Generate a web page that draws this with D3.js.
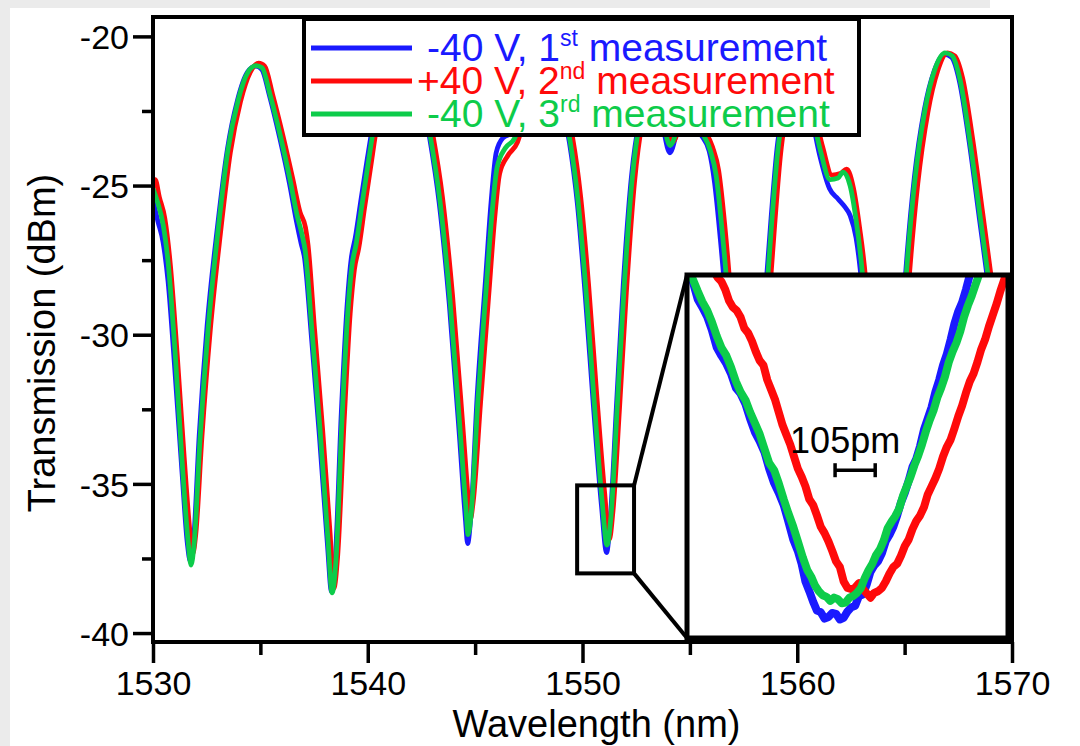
<!DOCTYPE html>
<html>
<head>
<meta charset="utf-8">
<script src="https://cdn.jsdelivr.net/npm/d3@7"></script>
<style>
  html, body { margin: 0; padding: 0; background: #ebebeb; }
  svg { display: block; font-family: "Liberation Sans", Arial, sans-serif; }
</style>
</head>
<body>
<svg id="chart" width="1080" height="746"></svg>
<script>
// Transmission spectra (wavelength in nm, transmission in dBm)
const traceBlue = [
  [1530.00,-25.50],[1530.23,-26.20],[1530.47,-26.90],[1530.70,-28.20],[1531.02,-31.20],[1531.35,-34.60],
  [1531.60,-37.00],[1531.74,-37.60],[1531.88,-37.00],[1532.15,-33.40],[1532.52,-29.70],[1533.00,-26.40],
  [1533.46,-23.80],[1533.93,-22.15],[1534.40,-21.20],[1534.78,-21.00],[1535.06,-21.10],[1535.43,-22.00],
  [1535.90,-23.40],[1536.36,-24.95],[1536.68,-26.20],[1536.90,-26.95],[1537.05,-27.40],[1537.37,-30.00],
  [1537.75,-33.40],[1538.12,-37.00],[1538.31,-38.60],[1538.49,-37.50],[1538.77,-32.60],[1539.05,-28.90],
  [1539.24,-27.40],[1539.42,-26.75],[1539.70,-25.40],[1539.98,-24.10],[1540.31,-22.70],[1540.63,-21.75],
  [1541.10,-20.85],[1541.57,-20.60],[1542.03,-20.85],[1542.50,-21.95],[1542.87,-23.35],[1543.33,-25.60],
  [1543.80,-29.00],[1544.27,-33.40],[1544.55,-36.20],[1544.65,-37.00],[1544.79,-36.20],[1545.10,-32.00],
  [1545.48,-28.20],[1545.75,-25.50],[1545.98,-23.90],[1546.30,-23.40],[1546.80,-23.20],[1547.27,-22.25],
  [1547.82,-21.30],[1548.37,-21.20],[1548.92,-22.10],[1549.39,-23.55],[1549.76,-25.60],[1550.13,-28.70],
  [1550.51,-32.40],[1550.88,-35.70],[1551.12,-37.30],[1551.30,-36.10],[1551.58,-32.40],[1551.90,-28.30],
  [1552.28,-24.70],[1552.65,-22.80],[1553.11,-21.90],[1553.67,-22.80],[1554.07,-23.90],[1554.43,-23.10],
  [1554.88,-22.15],[1555.44,-23.20],[1555.90,-23.85],[1556.15,-24.90],[1556.42,-26.80],[1556.70,-29.20],
  [1557.02,-33.10],[1557.60,-37.70],[1558.08,-32.90],[1558.50,-28.80],[1558.78,-26.10],[1559.06,-23.75],
  [1559.40,-22.45],[1560.10,-21.80],[1560.66,-22.70],[1561.05,-24.00],[1561.50,-25.10],[1561.90,-25.45],
  [1562.20,-25.70],[1562.46,-26.00],[1562.74,-26.75],[1563.00,-28.30],[1563.44,-33.00],[1564.05,-38.30],
  [1564.62,-32.80],[1565.03,-28.10],[1565.45,-24.75],[1565.92,-22.45],[1566.38,-21.15],[1566.85,-20.60],
  [1567.18,-20.70],[1567.55,-21.50],[1568.01,-23.55],[1568.48,-26.10],[1568.85,-28.10],[1569.41,-31.60],
  [1570.00,-34.70]
];
const traceRed = [
  [1530.00,-24.95],[1530.10,-24.80],[1530.30,-25.40],[1530.55,-26.10],[1530.80,-27.60],[1531.12,-30.60],
  [1531.45,-34.10],[1531.72,-36.60],[1531.85,-37.35],[1531.99,-36.70],[1532.28,-33.40],[1532.66,-29.90],
  [1533.14,-26.60],[1533.60,-23.90],[1534.07,-22.20],[1534.53,-21.20],[1534.92,-20.90],[1535.20,-21.00],
  [1535.57,-21.95],[1536.04,-23.30],[1536.50,-24.75],[1536.85,-25.90],[1537.10,-26.40],[1537.22,-27.00],
  [1537.52,-29.80],[1537.90,-33.20],[1538.25,-36.70],[1538.42,-38.50],[1538.60,-37.40],[1538.90,-32.90],
  [1539.18,-29.30],[1539.38,-27.80],[1539.58,-27.10],[1539.85,-25.75],[1540.13,-24.40],[1540.46,-22.85],
  [1540.78,-21.85],[1541.25,-20.85],[1541.72,-20.60],[1542.18,-20.85],[1542.65,-21.95],[1543.02,-23.25],
  [1543.48,-25.40],[1543.95,-28.70],[1544.42,-33.00],[1544.68,-35.50],[1544.77,-36.20],[1544.91,-35.60],
  [1545.25,-32.30],[1545.63,-28.70],[1545.91,-26.10],[1546.14,-24.60],[1546.52,-24.00],[1546.97,-23.55],
  [1547.42,-22.40],[1547.97,-21.35],[1548.52,-21.20],[1549.07,-22.05],[1549.54,-23.40],[1549.91,-25.35],
  [1550.28,-28.30],[1550.66,-32.00],[1551.03,-35.30],[1551.25,-36.85],[1551.42,-35.90],[1551.72,-32.50],
  [1552.04,-28.60],[1552.42,-24.90],[1552.79,-22.85],[1553.25,-21.90],[1553.80,-22.65],[1554.17,-23.55],
  [1554.55,-23.00],[1555.01,-22.05],[1555.57,-23.00],[1556.05,-23.70],[1556.34,-24.50],[1556.62,-26.30],
  [1556.90,-28.70],[1557.22,-32.70],[1557.78,-37.40],[1558.26,-32.90],[1558.68,-28.95],[1558.95,-26.30],
  [1559.23,-23.90],[1559.56,-22.50],[1560.25,-21.80],[1560.80,-22.60],[1561.18,-23.70],[1561.62,-24.65],
  [1562.00,-24.60],[1562.30,-24.45],[1562.62,-25.10],[1562.90,-26.40],[1563.18,-28.10],[1563.60,-32.90],
  [1564.21,-38.10],[1564.78,-32.90],[1565.19,-28.30],[1565.61,-24.95],[1566.08,-22.55],[1566.54,-21.15],
  [1567.00,-20.55],[1567.33,-20.65],[1567.70,-21.40],[1568.16,-23.40],[1568.63,-25.90],[1569.00,-27.90],
  [1569.56,-31.40],[1570.00,-33.80]
];
const traceGreen = [
  [1530.00,-25.10],[1530.23,-25.60],[1530.47,-26.30],[1530.70,-27.55],[1531.02,-30.50],[1531.35,-34.20],
  [1531.63,-36.90],[1531.77,-37.72],[1531.91,-37.05],[1532.19,-33.50],[1532.56,-29.85],[1533.03,-26.50],
  [1533.49,-23.80],[1533.96,-22.15],[1534.42,-21.20],[1534.80,-20.98],[1535.08,-21.05],[1535.45,-21.95],
  [1535.92,-23.30],[1536.38,-24.80],[1536.71,-26.00],[1536.94,-26.65],[1537.08,-27.15],[1537.40,-29.85],
  [1537.78,-33.20],[1538.15,-36.90],[1538.34,-38.65],[1538.52,-37.55],[1538.80,-32.85],[1539.08,-29.15],
  [1539.27,-27.65],[1539.45,-27.00],[1539.73,-25.65],[1540.01,-24.30],[1540.34,-22.80],[1540.66,-21.80],
  [1541.13,-20.85],[1541.60,-20.60],[1542.06,-20.85],[1542.53,-21.95],[1542.90,-23.30],[1543.36,-25.50],
  [1543.83,-28.85],[1544.30,-33.20],[1544.58,-35.90],[1544.67,-36.70],[1544.81,-36.05],[1545.13,-32.20],
  [1545.51,-28.50],[1545.79,-25.90],[1546.02,-24.40],[1546.40,-23.75],[1546.85,-23.40],[1547.30,-22.30],
  [1547.85,-21.30],[1548.40,-21.20],[1548.95,-22.10],[1549.42,-23.50],[1549.79,-25.50],[1550.16,-28.50],
  [1550.54,-32.20],[1550.91,-35.55],[1551.14,-37.05],[1551.33,-36.05],[1551.61,-32.50],[1551.93,-28.50],
  [1552.31,-24.80],[1552.68,-22.80],[1553.14,-21.90],[1553.70,-22.70],[1554.07,-23.65],[1554.45,-23.05],
  [1554.91,-22.10],[1555.47,-23.10],[1555.94,-23.80],[1556.22,-24.65],[1556.50,-26.50],[1556.78,-28.85],
  [1557.10,-32.85],[1557.66,-37.55],[1558.13,-32.85],[1558.55,-28.85],[1558.82,-26.15],[1559.10,-23.80],
  [1559.43,-22.45],[1560.13,-21.80],[1560.69,-22.65],[1561.07,-23.80],[1561.53,-24.80],[1561.90,-24.75],
  [1562.13,-24.55],[1562.46,-25.00],[1562.74,-26.15],[1563.02,-27.85],[1563.48,-32.85],[1564.09,-38.20],
  [1564.65,-32.85],[1565.06,-28.15],[1565.48,-24.80],[1565.95,-22.45],[1566.41,-21.10],[1566.88,-20.55],
  [1567.21,-20.65],[1567.58,-21.45],[1568.04,-23.50],[1568.51,-26.00],[1568.88,-28.00],[1569.44,-31.50],
  [1570.00,-34.50]
];

// Zoomed detail of the resonance near 1551.1 nm
const detailBlue = [
  [1550.740,-32.80],[1550.755,-32.98],[1550.765,-33.08],[1550.778,-33.30],[1550.790,-33.40],[1550.803,-33.52],
  [1550.815,-33.68],[1550.828,-33.90],[1550.840,-34.00],[1550.853,-34.10],[1550.865,-34.22],[1550.878,-34.40],
  [1550.890,-34.47],[1550.903,-34.60],[1550.915,-34.78],[1550.928,-34.95],[1550.940,-35.06],[1550.953,-35.20],
  [1550.965,-35.40],[1550.978,-35.58],[1550.990,-35.70],[1551.003,-35.85],[1551.015,-36.05],[1551.028,-36.28],
  [1551.040,-36.42],[1551.050,-36.58],[1551.060,-36.80],[1551.070,-36.92],[1551.080,-37.05],[1551.090,-37.16],
  [1551.100,-37.18],[1551.110,-37.26],[1551.120,-37.24],[1551.130,-37.19],[1551.140,-37.20],[1551.150,-37.27],
  [1551.160,-37.25],[1551.170,-37.17],[1551.180,-37.12],[1551.190,-37.10],[1551.200,-36.98],[1551.210,-36.96],
  [1551.220,-36.84],[1551.230,-36.68],[1551.240,-36.60],[1551.250,-36.55],[1551.260,-36.45],[1551.270,-36.30],
  [1551.280,-36.22],[1551.290,-36.12],[1551.300,-35.98],[1551.310,-35.82],[1551.320,-35.70],[1551.330,-35.55],
  [1551.340,-35.38],[1551.350,-35.28],[1551.360,-35.12],[1551.370,-34.92],[1551.380,-34.78],[1551.390,-34.64],
  [1551.400,-34.45],[1551.410,-34.30],[1551.420,-34.12],[1551.430,-33.98],[1551.440,-33.80],[1551.450,-33.60],
  [1551.460,-33.45],[1551.470,-33.34],[1551.480,-33.18],[1551.490,-33.00],[1551.500,-32.88]
];
const detailRed = [
  [1550.810,-32.80],[1550.820,-32.95],[1550.830,-33.03],[1550.840,-33.08],[1550.850,-33.18],[1550.860,-33.32],
  [1550.870,-33.40],[1550.880,-33.44],[1550.890,-33.52],[1550.900,-33.66],[1550.910,-33.72],[1550.920,-33.82],
  [1550.930,-33.95],[1550.940,-34.06],[1550.950,-34.12],[1550.960,-34.30],[1550.970,-34.42],[1550.980,-34.54],
  [1550.990,-34.70],[1551.000,-34.86],[1551.010,-34.98],[1551.020,-35.10],[1551.030,-35.25],[1551.040,-35.40],
  [1551.050,-35.50],[1551.060,-35.62],[1551.070,-35.78],[1551.080,-35.85],[1551.090,-35.98],[1551.100,-36.12],
  [1551.110,-36.20],[1551.120,-36.30],[1551.130,-36.42],[1551.140,-36.55],[1551.150,-36.62],[1551.160,-36.80],
  [1551.170,-36.88],[1551.185,-36.90],[1551.200,-36.82],[1551.215,-36.92],[1551.230,-37.00],[1551.240,-36.94],
  [1551.250,-36.92],[1551.260,-36.88],[1551.270,-36.80],[1551.280,-36.70],[1551.290,-36.62],[1551.300,-36.58],
  [1551.310,-36.48],[1551.320,-36.36],[1551.330,-36.28],[1551.340,-36.15],[1551.350,-36.05],[1551.360,-35.98],
  [1551.370,-35.88],[1551.380,-35.72],[1551.390,-35.62],[1551.400,-35.52],[1551.410,-35.40],[1551.420,-35.25],
  [1551.430,-35.13],[1551.440,-35.04],[1551.450,-34.90],[1551.460,-34.75],[1551.470,-34.62],[1551.480,-34.46],
  [1551.490,-34.32],[1551.500,-34.22],[1551.510,-34.08],[1551.520,-33.92],[1551.530,-33.80],[1551.540,-33.64],
  [1551.550,-33.50],[1551.560,-33.36],[1551.570,-33.20],[1551.580,-33.06],[1551.590,-32.92],[1551.610,-32.65]
];
const detailGreen = [
  [1550.740,-32.85],[1550.753,-32.96],[1550.765,-33.05],[1550.778,-33.20],[1550.790,-33.33],[1550.803,-33.44],
  [1550.815,-33.58],[1550.828,-33.76],[1550.840,-33.90],[1550.853,-34.00],[1550.865,-34.14],[1550.878,-34.32],
  [1550.890,-34.45],[1550.903,-34.55],[1550.915,-34.70],[1550.928,-34.84],[1550.940,-34.97],[1550.953,-35.16],
  [1550.965,-35.33],[1550.978,-35.42],[1550.990,-35.58],[1551.003,-35.78],[1551.015,-35.95],[1551.028,-36.12],
  [1551.040,-36.30],[1551.053,-36.50],[1551.065,-36.66],[1551.075,-36.74],[1551.085,-36.85],[1551.095,-36.92],
  [1551.105,-36.97],[1551.115,-36.99],[1551.125,-37.04],[1551.135,-37.00],[1551.145,-37.02],[1551.155,-37.07],
  [1551.165,-37.06],[1551.175,-37.00],[1551.185,-36.98],[1551.195,-36.94],[1551.205,-36.88],[1551.215,-36.76],
  [1551.225,-36.66],[1551.235,-36.58],[1551.245,-36.47],[1551.255,-36.40],[1551.265,-36.29],[1551.275,-36.14],
  [1551.285,-36.06],[1551.295,-35.99],[1551.305,-35.90],[1551.315,-35.74],[1551.325,-35.62],[1551.335,-35.50],
  [1551.345,-35.36],[1551.355,-35.24],[1551.365,-35.10],[1551.375,-34.94],[1551.385,-34.80],[1551.395,-34.68],
  [1551.405,-34.52],[1551.415,-34.40],[1551.425,-34.26],[1551.435,-34.08],[1551.445,-33.95],[1551.455,-33.84],
  [1551.465,-33.70],[1551.475,-33.52],[1551.485,-33.38],[1551.495,-33.26],[1551.505,-33.12],[1551.525,-32.85]
];

const xMajorTicks = [1530, 1540, 1550, 1560, 1570];
const xMinorTicks = [1535, 1545, 1555, 1565];
const yMajorTicks = [-40, -35, -30, -25, -20];
const yMinorTicks = [-37.5, -32.5, -27.5, -22.5];

const seriesColors = ["#1a1aff", "#ff0a0a", "#0dcc4a"];
const legendLabels = [
  ["-40 V, 1", "st", " measurement"],
  ["+40 V, 2", "nd", " measurement"],
  ["-40 V, 3", "rd", " measurement"]
];

const zoomWindow = { x0: 1549.75, x1: 1552.40, y0: -35.05, y1: -38.00 };
const shiftPm = 105;

// ---- layout ----
const svg = d3.select("#chart");
const plot = { left: 153, right: 1012, top: 17, bottom: 642 };
const inset = { left: 687, right: 1008, top: 275, bottom: 638 };

// white page area with a light grey margin on the left and along the top
svg.append("rect").attr("x", 10).attr("y", 8).attr("width", 1070).attr("height", 738).attr("fill", "#ffffff");
svg.append("rect").attr("x", 990).attr("y", 0).attr("width", 90).attr("height", 8).attr("fill", "#ffffff");

const x = d3.scaleLinear().domain([1530, 1570]).range([plot.left, plot.right]);
const y = d3.scaleLinear().domain([-40.3, -19.35]).range([plot.bottom, plot.top]);

svg.append("clipPath").attr("id", "plotClip").append("rect")
  .attr("x", plot.left).attr("y", plot.top)
  .attr("width", plot.right - plot.left).attr("height", plot.bottom - plot.top);

const line = d3.line().x(d => x(d[0])).y(d => y(d[1])).curve(d3.curveMonotoneX);
const traces = [traceBlue, traceRed, traceGreen];

const gLines = svg.append("g").attr("clip-path", "url(#plotClip)");
traces.forEach((t, i) => {
  gLines.append("path").datum(t).attr("d", line)
    .attr("fill", "none").attr("stroke", seriesColors[i])
    .attr("stroke-width", 4.8).attr("stroke-linejoin", "round").attr("stroke-linecap", "round");
});

// axes (plain hyphen for negative labels)
const tickFont = 34;
const fmt = d => String(d);
const yAxis = svg.append("g").attr("transform", `translate(${plot.left},0)`)
  .call(d3.axisLeft(y).tickValues(yMajorTicks).tickSize(20).tickPadding(4).tickFormat(fmt));
svg.append("g").attr("transform", `translate(${plot.left},0)`)
  .call(d3.axisLeft(y).tickValues(yMinorTicks).tickSize(11).tickFormat(""));
svg.append("g").attr("transform", `translate(0,${plot.bottom})`)
  .call(d3.axisBottom(x).tickValues(xMajorTicks).tickSize(21).tickPadding(8).tickFormat(fmt));
svg.append("g").attr("transform", `translate(0,${plot.bottom})`)
  .call(d3.axisBottom(x).tickValues(xMinorTicks).tickSize(13).tickFormat(""));

svg.selectAll(".domain").remove();
svg.selectAll(".tick line").attr("stroke", "#000").attr("stroke-width", 3.5);
svg.selectAll(".tick text").attr("fill", "#000").attr("font-size", tickFont)
  .attr("font-family", "'Liberation Sans', Arial, sans-serif");
yAxis.selectAll(".tick text").attr("dy", "0.36em");

// frame
svg.append("rect")
  .attr("x", plot.left).attr("y", plot.top)
  .attr("width", plot.right - plot.left).attr("height", plot.bottom - plot.top)
  .attr("fill", "none").attr("stroke", "#000").attr("stroke-width", 4);

// axis titles
svg.append("text").attr("x", (plot.left + plot.right) / 2 + 14).attr("y", 737)
  .attr("text-anchor", "middle").attr("font-size", 38).text("Wavelength (nm)");
svg.append("text").attr("transform", "translate(55,343) rotate(-90)")
  .attr("text-anchor", "middle").attr("font-size", 38).text("Transmission (dBm)");

// zoom window and connectors
const zx0 = x(zoomWindow.x0), zx1 = x(zoomWindow.x1), zy0 = y(zoomWindow.y0), zy1 = y(zoomWindow.y1);
svg.append("rect").attr("x", zx0).attr("y", zy0).attr("width", zx1 - zx0).attr("height", zy1 - zy0)
  .attr("fill", "none").attr("stroke", "#000").attr("stroke-width", 4);
svg.append("line").attr("x1", zx1).attr("y1", zy0).attr("x2", inset.left).attr("y2", inset.top)
  .attr("stroke", "#000").attr("stroke-width", 4);
svg.append("line").attr("x1", zx1).attr("y1", zy1).attr("x2", inset.left).attr("y2", inset.bottom)
  .attr("stroke", "#000").attr("stroke-width", 4);

// inset
const ix = d3.scaleLinear().domain([1550.75, 1551.59]).range([inset.left, inset.right]);
const iy = d3.scaleLinear().domain([-33.0, -37.5]).range([inset.top, inset.bottom]);
svg.append("rect").attr("x", inset.left).attr("y", inset.top)
  .attr("width", inset.right - inset.left).attr("height", inset.bottom - inset.top).attr("fill", "#fff");
svg.append("clipPath").attr("id", "insetClip").append("rect")
  .attr("x", inset.left).attr("y", inset.top)
  .attr("width", inset.right - inset.left).attr("height", inset.bottom - inset.top);
const iline = d3.line().x(d => ix(d[0])).y(d => iy(d[1])).curve(d3.curveLinear);
const gInset = svg.append("g").attr("clip-path", "url(#insetClip)");
[detailBlue, detailRed, detailGreen].forEach((t, i) => {
  gInset.append("path").datum(t).attr("d", iline)
    .attr("fill", "none").attr("stroke", seriesColors[i])
    .attr("stroke-width", 8).attr("stroke-linejoin", "round").attr("stroke-linecap", "round");
});
svg.append("rect").attr("x", inset.left).attr("y", inset.top)
  .attr("width", inset.right - inset.left).attr("height", inset.bottom - inset.top)
  .attr("fill", "none").attr("stroke", "#000").attr("stroke-width", 5);

// 105 pm scale bar
const barCenter = 1551.19, barLevel = -35.42;
const bx0 = ix(barCenter - shiftPm / 2000), bx1 = ix(barCenter + shiftPm / 2000), by = iy(barLevel);
const gBar = svg.append("g").attr("stroke", "#000").attr("stroke-width", 3.5);
gBar.append("line").attr("x1", bx0).attr("x2", bx1).attr("y1", by).attr("y2", by);
gBar.append("line").attr("x1", bx0).attr("x2", bx0).attr("y1", by - 7).attr("y2", by + 7);
gBar.append("line").attr("x1", bx1).attr("x2", bx1).attr("y1", by - 7).attr("y2", by + 7);
svg.append("text").attr("x", (bx0 + bx1) / 2 - 10).attr("y", by - 17)
  .attr("text-anchor", "middle").attr("font-size", 36).text(`${shiftPm}pm`);

// legend
const legend = { left: 304, top: 19, right: 859, bottom: 135 };
svg.append("rect").attr("x", legend.left).attr("y", legend.top)
  .attr("width", legend.right - legend.left).attr("height", legend.bottom - legend.top)
  .attr("fill", "#fff").attr("stroke", "#000").attr("stroke-width", 4);
const rowY = [48, 81, 114];
const textX = [427, 417, 427];
legendLabels.forEach((lab, i) => {
  svg.append("line").attr("x1", 311).attr("x2", 412).attr("y1", rowY[i]).attr("y2", rowY[i])
    .attr("stroke", seriesColors[i]).attr("stroke-width", 5);
  const t = svg.append("text").attr("x", textX[i]).attr("y", rowY[i] + 13)
    .attr("font-size", 39).attr("fill", seriesColors[i]);
  t.append("tspan").text(lab[0]);
  t.append("tspan").attr("font-size", 23).attr("dy", -15).text(lab[1]);
  t.append("tspan").attr("dy", 15).text(lab[2]);
});
</script>
</body>
</html>
